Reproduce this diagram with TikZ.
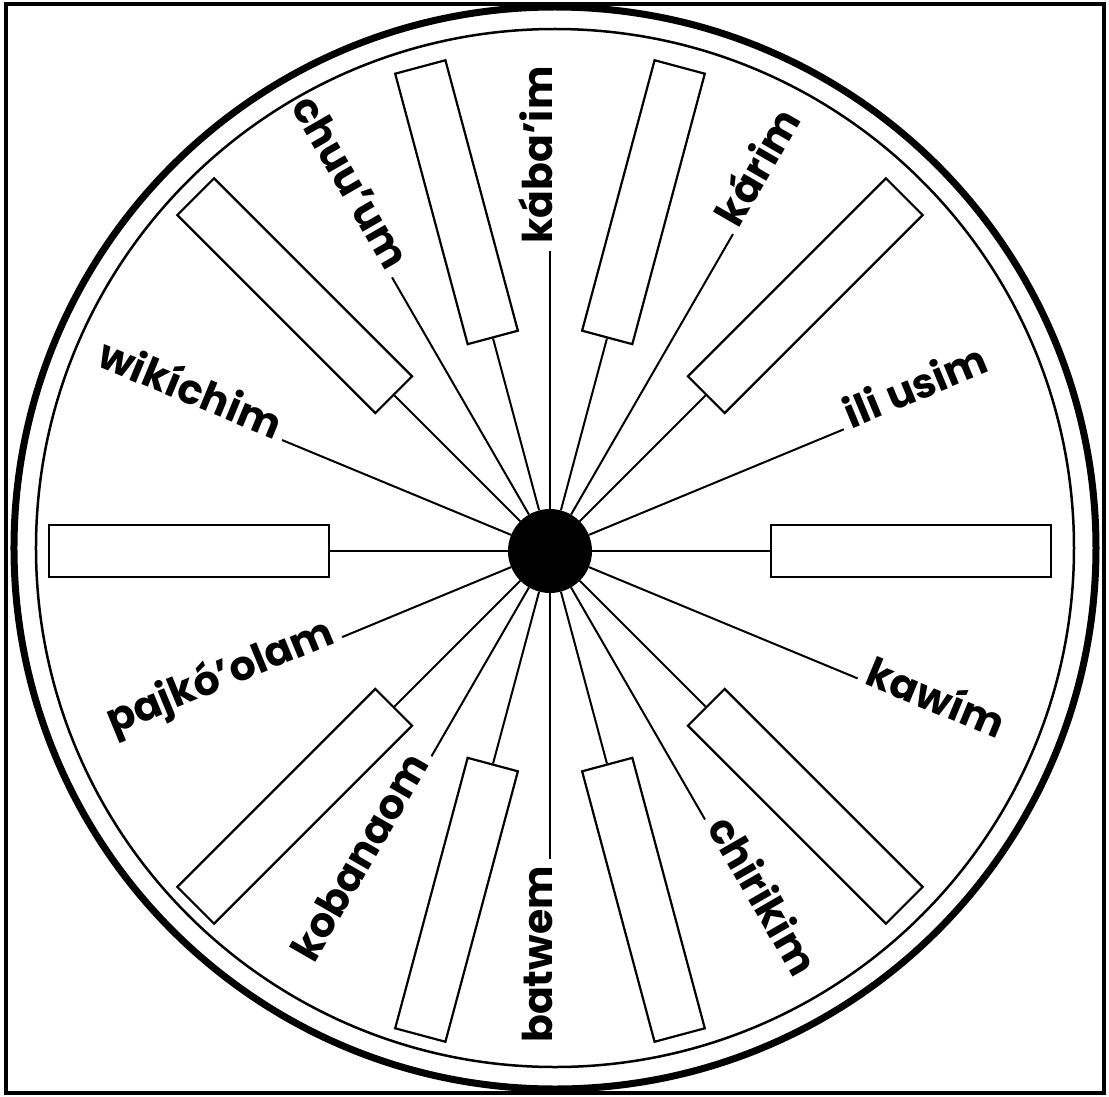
\documentclass[tikz,border=0pt]{standalone}
\usepackage{fontspec}
\setmainfont{Poppins}
\begin{document}
\begin{tikzpicture}[x=1pt, y=1pt,
    hubdot/.style={circle, fill=black, minimum size=84pt, inner sep=0pt},
    slot/.style={draw, line width=2.2pt, minimum width=280pt, minimum height=52pt, inner sep=0pt, anchor=west},
    spoke/.style={line width=2pt},
    word/.style={font=\fontsize{41}{41}\selectfont\bfseries, inner xsep=7pt, inner ysep=0pt}]
                \useasboundingbox (-550,-545) rectangle (559,551);
                % Frame
                \draw[line width=4pt] (-544,547) rectangle (554,-542);
                \draw[line width=7pt] (5,3) circle (541pt);
                \draw[line width=2.5pt] (5,3) circle (519pt);
                % Hub
                \node[hubdot] (hub) at (0,0) {};
                % Empty boxes
                \foreach \a [count=\i] in {0,45,75,105,135,180,225,255,285,315}
                    \node[slot, rotate=\a] (box\i) at (\a:220pt) {};
                \foreach \i in {1,...,10}
                    \draw[spoke] (hub) -- (box\i.west);
                % Words
                \foreach \a/\r/\rot/\side/\t [count=\i] in {22.5/318/22.5/west/ili usim,
                        60/366/60/west/kárim, 90/300/90/west/kába’im,
                        120/316/-60/east/chuu’um, 157.5/290/-22.5/east/wikíchim,
                        202.5/225/22.5/east/pajkó’olam, 240/237/60/east/kobanaom,
                        270/308/90/east/batwem, 300/310/-60/west/chirikim,
                        337.5/333/-22.5/west/kawím}
                    {
                    \node[word, rotate=\rot, anchor=mid \side] (lab\i) at (\a:\r pt) {\t};
                    \draw[spoke] (hub) -- (lab\i.mid \side);
                    }
\end{tikzpicture}
\end{document}
